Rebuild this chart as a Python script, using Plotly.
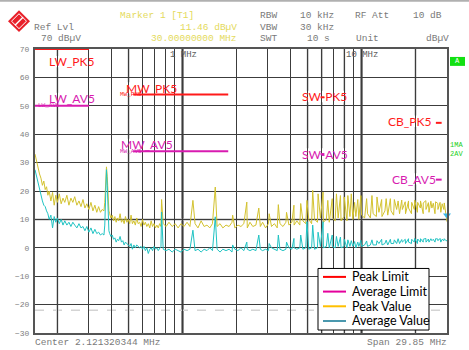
import math
import plotly.graph_objects as go

# ---- data -----------------------------------------------------------------
# sweep readings between the harmonics (MHz, dBuV)
sweep_mhz = [
    0.150, 0.153, 0.156, 0.159, 0.162, 0.165, 0.168, 0.171, 0.174, 0.177,
    0.180, 0.184, 0.188, 0.192, 0.196, 0.200, 0.205, 0.210, 0.215, 0.220,
    0.226, 0.232, 0.238, 0.244, 0.250, 0.257, 0.264, 0.271, 0.278, 0.285,
    0.292, 0.300, 0.308, 0.316, 0.324, 0.332, 0.340, 0.348, 0.356, 0.364,
    0.368, 0.372, 0.376, 0.380, 0.384, 0.388,
    0.392, 0.398, 0.405, 0.412, 0.419, 0.426, 0.433, 0.440, 0.448, 0.456,
    0.464, 0.472, 0.480, 0.489, 0.498, 0.507, 0.516, 0.525, 0.535, 0.545,
    0.555, 0.565, 0.576, 0.587, 0.598, 0.609, 0.620, 0.632, 0.644, 0.656,
    0.668, 0.680, 0.693, 0.706, 0.719, 0.732, 0.745, 0.758,
    0.78, 0.81, 0.84, 0.875, 0.91, 0.945, 0.98, 1.02, 1.06, 1.10,
    1.175, 1.22, 1.27, 1.32, 1.37, 1.42, 1.47, 1.56, 1.62, 1.68,
    1.75, 1.82, 1.89, 1.96, 2.04, 2.12, 2.20, 2.30, 2.38, 2.47,
    2.57, 2.72, 2.80, 2.91, 3.02, 3.14, 3.26, 3.38, 3.50, 3.64,
    3.78, 3.93, 4.08, 4.20, 4.35, 4.52, 4.70, 4.88, 5.07, 5.26,
    5.46, 5.67, 5.89, 6.12, 6.36, 6.60, 6.86, 7.12, 7.40, 7.68,
    7.98, 8.29, 8.61, 8.94, 9.29, 9.65, 10.0, 10.4, 10.8, 11.2,
    11.6, 12.1, 12.5, 13.0, 13.5, 14.0, 14.6, 15.1, 15.7, 16.3,
    16.9, 17.6, 18.3, 19.0, 19.7, 20.5, 21.3, 22.1, 22.9, 23.8,
    24.7, 25.7, 26.7, 27.7, 28.8, 29.6, 30.0,
]
peak_dbuv = [
    33, 30.5, 28, 26, 24.5, 22, 23.5, 20.5, 21.5, 18.5,
    20, 16.5, 19.5, 15, 18.5, 16, 19, 15.5, 17.5, 16,
    18.5, 15, 17.5, 16, 18, 15, 16.5, 14.5, 17, 14,
    15.5, 13.5, 16, 13, 15, 12.5, 14.5, 12.5, 13.5, 13,
    16, 23, 28.5, 25, 17, 13,
    12, 10.5, 11.5, 9.5, 11, 9, 10.5, 9.5, 12, 9,
    10, 8.5, 11, 9, 10, 8.5, 11.5, 8.5, 9.5, 8,
    10.5, 8.5, 9, 7.5, 10, 8, 9, 7.5, 8.5, 7,
    9.5, 7.5, 8.5, 7, 8, 7, 8.5, 7.5,
    8.5, 7.5, 9, 7.5, 8.5, 7, 8.5, 7.5, 9, 7.5,
    8.5, 7, 9.5, 7.5, 8, 7, 8.5, 7.5, 8.5, 7,
    8, 7.5, 9, 7, 8, 7.5, 8.5, 7, 9, 7.5,
    8, 7.5, 9, 7, 8.5, 7.5, 8.5, 7, 8.5, 7.5,
    9, 8, 9, 8, 9.5, 8, 9.5, 8.5, 10, 8.5,
    10, 9, 10.5, 9, 10, 9, 10.5, 9.5, 10.5, 9.5,
    11, 9.5, 11, 10, 11, 10, 11.5, 10.5, 12, 10.5,
    12, 11, 12.5, 11, 13, 11.5, 13, 11.5, 13.5, 12,
    13.5, 12, 14, 12, 13.5, 12.5, 14, 12, 13.5, 12.5,
    14, 12, 13.5, 12.5, 13.5, 12.5, 9.2,
]
avg_dbuv = [
    27.5, 25, 22.5, 20.5, 18.5, 16.5, 15, 14.5, 13, 12,
    10, 11.5, 7, 11, 9, 10.5, 8.5, 10, 8, 9.5,
    8, 9, 7.5, 9, 8, 7, 8.5, 7, 7.5, 6,
    7.5, 5.5, 7, 5, 6.5, 5, 5.5, 4.5, 5, 4.5,
    8, 19, 27.5, 22, 12, 6,
    5, 4, 4.5, 3, 3.5, 2, 3, 2.5, 4, 2,
    2.5, 1, 2, 1.5, 1, 0.5, 1.5, -0.5, 1, 0,
    1, 0.5, 0, 0.5, -0.5, 0.5, -1, 0, -2, -0.5,
    0, -1, 0.5, -0.5, 0, -1, 0, 0.5,
    -0.5, -1, -0.5, -1.5, -0.5, -1, -1.5, -0.5, -1, -0.5,
    -1, -0.5, -1.5, -0.5, -1, 0, -1, -0.5, -1.5, -0.5,
    -1, -0.5, -1.5, -0.5, -1, 0, -1, -0.5, -1, -0.5,
    -1, -0.5, -1, -0.5, -1, 0, -0.5, -1, -0.5, -1,
    -0.5, 0, -0.5, 0, -0.5, 0, -0.5, 0, -0.5, 0,
    -0.5, 0, 0.5, 0, 0.5, 0, 0.5, 0, 0.5, 0,
    0.5, 0, 0.5, 0.5, 0, 0.5, 0.5, 1, 0.5, 1,
    1, 1, 1.5, 1, 1.5, 1, 1.5, 1.5, 1.5, 1.5,
    2, 1.5, 2, 1.5, 2, 1.5, 2, 2, 2, 2,
    2.5, 2, 2.5, 2, 2.5, 2.5, 2.5,
]

# switching harmonics (MHz, dBuV)
harm_mhz = [
    0.764, 1.143, 1.524, 1.905, 2.286, 2.667, 3.048, 3.429, 3.810, 4.191,
    4.572, 4.953, 5.334, 5.715, 6.096, 6.477, 6.858, 7.239, 7.620, 8.001,
    8.382, 8.763, 9.144, 9.525, 9.906, 10.67, 11.43, 12.19, 12.95, 13.72,
    14.48, 15.24, 16.00, 16.76, 17.53, 18.29, 19.05, 19.81, 20.57, 21.34,
    22.10, 22.86, 23.62, 24.38, 25.15, 25.91, 26.67, 27.43, 28.19, 28.96,
]
harm_peak_dbuv = [
    17.0, 16.7, 21.4, 11.5, 16.1, 14.0, 12.0, 15.2, 12.5, 15.0,
    15.6, 16.7, 20.2, 19.0, 19.6, 16.7, 17.3, 19.0, 18.4, 17.9,
    18.4, 19.0, 16.0, 17.0, 18.4, 17.3, 18.4, 17.9, 17.0, 17.3,
    17.3, 17.0, 16.5, 16.8, 16.2, 16.5, 16.0, 16.8, 16.0, 16.5,
    15.8, 16.6, 15.9, 16.4, 15.7, 16.2, 15.6, 16.0, 15.5, 15.8,
]
harm_avg_dbuv = [
    12.6, 6.2, 10.9, 1.0, 2.0, 4.5, 1.5, 4.5, 2.0, 3.3,
    4.5, 9.2, 8.0, 5.5, 9.2, 5.1, 4.5, 4.0, 3.8, 3.0,
    2.8, 2.5, 2.2, 2.0, 2.6, 2.4, 2.8, 2.5, 3.0, 2.7,
    3.0, 2.8, 3.2, 2.9, 3.0, 3.2, 3.0, 3.3, 3.1, 3.2,
    3.0, 3.3, 3.1, 3.2, 3.0, 3.2, 3.1, 3.3, 3.0, 3.2,
]

# CISPR 25 class 5 limits
band_names = ["LW", "MW", "SW", "CB"]
band_start_mhz = [0.15, 0.53, 5.9, 26.0]
band_stop_mhz = [0.30, 1.80, 6.2, 28.0]
band_peak_dbuv = [70, 54, 53, 44]
band_avg_dbuv = [50, 34, 33, 24]

marker_mhz = 30.0
marker_dbuv = 11.46

legend_names = ["Peak Limit", "Average Limit", "Peak Value", "Average Value"]
legend_colors = ["#ff0000", "#e4009c", "#ffc000", "#4a98ae"]

grid_mhz = [0.2, 0.3, 0.4, 0.5, 0.6, 0.7, 0.8, 0.9, 1, 2, 3, 4, 5, 6, 7, 8, 9, 10, 20]
light_grid_mhz = [0.2, 0.5, 5, 6, 8, 20]
y_ticks = [70, 60, 50, 40, 30, 20, 10, 0, -10, -20, -30]

# ---- layout helpers (pixel -> paper) ---------------------------------------
W, H = 469, 350
L, R, T, B = 35, 447, 49, 335


def px(x):
    return (x - L) / (R - L)


def py(y):
    return (B - y) / (B - T)


PEAK_C = "#d3c22e"
AVG_C = "#1fc3c3"
RED = "#ff1a1a"
MAG = "#d81bb0"
GREY = "#7a7a7a"
YEL = "#e4da5c"
MONO = "Liberation Mono"

pts = sorted(zip(sweep_mhz + harm_mhz, peak_dbuv + harm_peak_dbuv, avg_dbuv + harm_avg_dbuv))
f_all = [p[0] for p in pts]
pk_all = [p[1] for p in pts]
av_all = [p[2] for p in pts]


def limit_xy(levels):
    xs, ys = [], []
    for s, e, v in zip(band_start_mhz, band_stop_mhz, levels):
        xs += [s, e, None]
        ys += [v, v, None]
    return xs, ys


fig = go.Figure()
lx, ly = limit_xy(band_peak_dbuv)
fig.add_trace(go.Scatter(x=lx, y=ly, mode="lines", line=dict(color=RED, width=2)))
lx, ly = limit_xy(band_avg_dbuv)
fig.add_trace(go.Scatter(x=lx, y=ly, mode="lines", line=dict(color=MAG, width=2)))
fig.add_trace(go.Scatter(x=f_all, y=pk_all, mode="lines", line=dict(color=PEAK_C, width=1)))
fig.add_trace(go.Scatter(x=f_all, y=av_all, mode="lines", line=dict(color=AVG_C, width=1)))
fig.add_trace(go.Scatter(x=[marker_mhz], y=[marker_dbuv], mode="markers", cliponaxis=False,
                         marker=dict(symbol="triangle-down", size=7, color="#3cb8e6")))

shapes = []
for f in light_grid_mhz:
    shapes.append(dict(type="line", xref="x", yref="y domain", x0=f, x1=f, y0=0, y1=1,
                       line=dict(color="#b8b8b8", width=2), layer="below"))
for f in [1, 10]:
    shapes.append(dict(type="line", xref="x", yref="y domain", x0=f, x1=f, y0=0, y1=1,
                       line=dict(color="#6a6a6a", width=2.5), layer="below"))
shapes.append(dict(type="line", xref="x domain", yref="y", x0=0, x1=1, y0=10, y1=10,
                   line=dict(color="#b8b8b8", width=2), layer="below"))
shapes.append(dict(type="line", xref="x domain", yref="y", x0=0, x1=1, y0=-22, y1=-22,
                   line=dict(color="#d4d4d4", width=1.5, dash="dash"), layer="below"))

ann = []


def txt(s, x, y, col=GREY, size=9.5, anchor="left", family=MONO):
    ann.append(dict(text=s, x=px(x), y=py(y), xref="paper", yref="paper", showarrow=False,
                    xanchor=anchor, yanchor="middle", font=dict(family=family, size=size, color=col)))


# limit labels: text, colour, left px, centre px, width px
labels = [
    ("LW_PK5", RED, 50, 62, 44), ("LW_AV5", MAG, 50, 99, 46),
    ("MW_PK5", RED, 127, 88.5, 49), ("MW_AV5", MAG, 122, 145.5, 50),
    ("SW-PK5", RED, 303, 97, 41), ("SW-AV5", MAG, 303, 155, 42),
    ("CB_PK5", RED, 389, 122, 40), ("CB_AV5", MAG, 393, 180, 41),
]
for s, col, x0, yc, w in labels:
    shapes.append(dict(type="rect", xref="x domain", yref="y domain", x0=px(x0 - 1), x1=px(x0 + w + 1),
                       y0=py(yc + 5.5), y1=py(yc - 6), fillcolor="white", line=dict(width=0), layer="below"))
    txt(s, x0 - 3, yc, col, 12, family="Lato")

# tiny analyser line names sitting on the lines
for s, col, x0, yc in [("LW_AV5", MAG, 38, 105.5), ("MW_PK5", RED, 120, 94.5), ("MW_AV5", MAG, 120, 152)]:
    txt(s, x0 - 2, yc, col, 6)

# hand-drawn legend box (as pasted on the screenshot)
shapes.append(dict(type="rect", xref="paper", yref="paper", x0=px(318), x1=px(429), y0=py(332), y1=py(270),
                   fillcolor="white", line=dict(color="black", width=1)))
for i, (name, col) in enumerate(zip(legend_names, legend_colors)):
    yc = 278.5 + i * 14.8
    shapes.append(dict(type="line", xref="paper", yref="paper", x0=px(323), x1=px(346), y0=py(yc), y1=py(yc),
                       line=dict(color=col, width=2)))
    txt(name, 350, yc, "black", 12.5, family="Lato")

# logo
cx, cy, r = 19, 21, 11
shapes.append(dict(type="path", xref="paper", yref="paper", fillcolor="#e8202a", line=dict(width=0),
                   path=f"M {px(cx - r)} {py(cy)} L {px(cx)} {py(cy - r)} L {px(cx + r)} {py(cy)} L {px(cx)} {py(cy + r)} Z"))
r2 = 7.5
shapes.append(dict(type="path", xref="paper", yref="paper", line=dict(color="white", width=1),
                   path=f"M {px(cx - r2)} {py(cy)} L {px(cx)} {py(cy - r2)} L {px(cx + r2)} {py(cy)} L {px(cx)} {py(cy + r2)} Z"))
shapes.append(dict(type="line", xref="paper", yref="paper", x0=px(cx - 4), y0=py(cy + 4), x1=px(cx + 4), y1=py(cy - 4),
                   line=dict(color="white", width=1.5)))
# frame line at the top of the screenshot
shapes.append(dict(type="line", xref="paper", yref="paper", x0=px(0), x1=px(W), y0=py(0.5), y1=py(0.5),
                   line=dict(color="#b0b0b0", width=2)))
# green "A" box
shapes.append(dict(type="rect", xref="paper", yref="paper", x0=px(450), x1=px(465), y0=py(66), y1=py(57),
                   fillcolor="#12e012", line=dict(width=0)))

txt("Ref Lvl", 32, 27)
txt("70 dBµV", 39, 38)
txt("Marker 1 [T1]", 118, 15.5, YEL)
txt("11.46 dBµV", 239, 27, YEL, anchor="right")
txt("30.00000000 MHz", 239, 38, YEL, anchor="right")
txt("RBW", 258, 15.5)
txt("10 kHz", 298, 15.5)
txt("RF Att", 353, 15.5)
txt("10 dB", 411, 15.5)
txt("VBW", 258, 27)
txt("30 kHz", 298, 27)
txt("SWT", 258, 38)
txt("10 s", 305, 38)
txt("Unit", 354, 38)
txt("dBµV", 451, 38, anchor="right")
txt("1 MHz", 168, 55, "#606060", 9)
txt("10 MHz", 344, 55, "#606060", 9)
txt("Center 2.121320344 MHz", 33, 345)
txt("Span 29.85 MHz", 449, 345, anchor="right")
txt("A", 457.5, 61.5, "white", 7, anchor="center")
txt("1MA", 448, 145.5, "#22d022", 7)
txt("2AV", 448, 154.5, "#22d022", 7)

fig.update_layout(
    width=W, height=H,
    margin=dict(l=L, r=W - R, t=T, b=H - B),
    paper_bgcolor="white", plot_bgcolor="white",
    shapes=shapes, annotations=ann,
    showlegend=False,
    xaxis=dict(type="log", range=[math.log10(0.15), math.log10(30)], tickvals=grid_mhz,
               showticklabels=False, ticks="", showgrid=True, gridcolor="#3c3c3c", gridwidth=1,
               showline=True, mirror=True, linecolor="#555555", linewidth=2, zeroline=False),
    yaxis=dict(range=[-30, 70], tickvals=y_ticks, ticks="", showgrid=True, gridcolor="#3c3c3c",
               gridwidth=1, tickfont=dict(family=MONO, size=8, color="#808080"), ticklabelstandoff=2,
               showline=True, mirror=True, linecolor="#555555", linewidth=2, zeroline=False),
)

# the page body keeps its default 8px margin otherwise
fig.write_html("out.html", config={"displayModeBar": False},
               post_script="document.body.style.margin = '0';")
